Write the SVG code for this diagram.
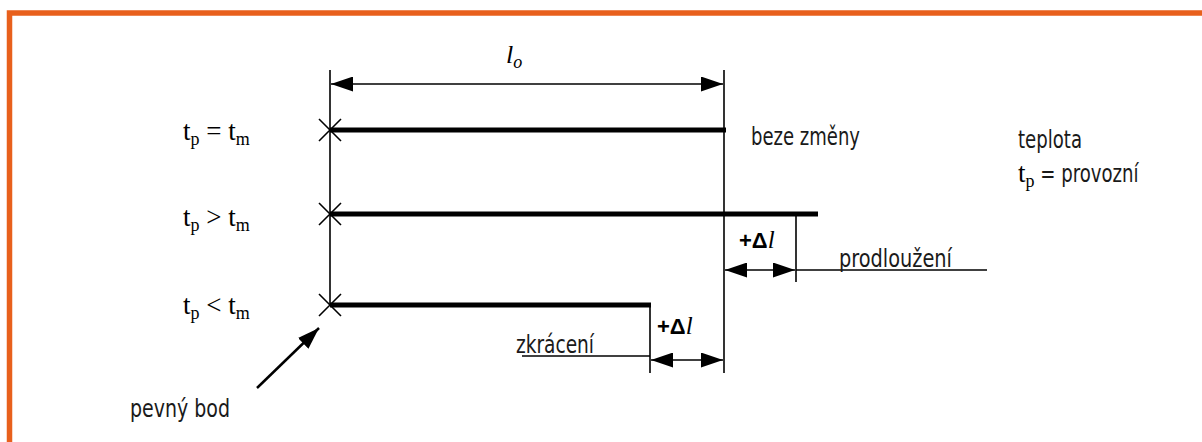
<svg xmlns="http://www.w3.org/2000/svg" width="1202" height="442" viewBox="0 0 1202 442">
<defs>
<marker id="ah" viewBox="0 0 22 15" refX="22" refY="7.5" markerWidth="22" markerHeight="15" markerUnits="userSpaceOnUse" orient="auto-start-reverse">
<path d="M0,0 L22,7.5 L0,15 Z" fill="#000"/>
</marker>
</defs>
<style>
.thin{stroke:#000;stroke-width:1.6;fill:none}
.bar{stroke:#000;stroke-width:5;fill:none}
.dim{stroke:#000;stroke-width:1.6;fill:none;marker-start:url(#ah);marker-end:url(#ah)}
.ser{font-family:"Liberation Serif","Times New Roman",serif;fill:#000}
.san{font-family:"Liberation Sans Narrow","DejaVu Sans Condensed","Liberation Sans",sans-serif;font-size:25px;fill:#1a1a1a}
.sub{font-size:18px}
.dl{font-family:"Liberation Sans",Arial,sans-serif;font-weight:bold;font-size:22px;fill:#000}
</style>
<rect x="0" y="0" width="1202" height="442" fill="#fff"/>
<path d="M9.5,442 L9.5,13 L1202,13" stroke="#E8601C" stroke-width="5.5" fill="none"/>

<g id="connectors">
<line class="thin" x1="330" y1="70" x2="330" y2="305"/>
<line class="thin" x1="724" y1="70" x2="724" y2="373"/>
<line class="thin" x1="650" y1="305" x2="650" y2="373"/>
<line class="thin" x1="796" y1="214" x2="796" y2="282"/>
<line class="dim" x1="331" y1="84" x2="723" y2="84"/>
<line class="dim" x1="725" y1="270" x2="795" y2="270"/>
<line class="dim" x1="651" y1="360" x2="723" y2="360"/>
<line class="thin" x1="796" y1="270" x2="987" y2="270"/>
<line class="thin" x1="522" y1="356" x2="650" y2="356"/>
<line stroke="#000" stroke-width="2.5" x1="257" y1="388" x2="319" y2="328" marker-end="url(#ah)"/>
</g>

<g id="bar-equal">
<line class="bar" x1="330" y1="130" x2="726" y2="130"/>
<path class="thin" d="M319,119 L341,141 M319,141 L341,119"/>
<text class="ser" x="183" y="140" font-size="27">t<tspan class="sub" dy="5">p</tspan><tspan dy="-5"> = t</tspan><tspan class="sub" dy="5">m</tspan></text>
<text class="san" x="751" y="145" textLength="109" lengthAdjust="spacingAndGlyphs">beze změny</text>
</g>

<g id="bar-longer">
<line class="bar" x1="330" y1="214" x2="818" y2="214"/>
<path class="thin" d="M319,203 L341,225 M319,225 L341,203"/>
<text class="ser" x="183" y="226" font-size="27">t<tspan class="sub" dy="5">p</tspan><tspan dy="-5"> &gt; t</tspan><tspan class="sub" dy="5">m</tspan></text>
<text x="739" y="248"><tspan class="dl">+Δ</tspan><tspan class="ser" font-style="italic" font-size="25">l</tspan></text>
<text class="san" x="839" y="267" textLength="113" lengthAdjust="spacingAndGlyphs">prodloužení</text>
</g>

<g id="bar-shorter">
<line class="bar" x1="330" y1="305" x2="651" y2="305"/>
<path class="thin" d="M319,294 L341,316 M319,316 L341,294"/>
<text class="ser" x="183" y="314" font-size="27">t<tspan class="sub" dy="5">p</tspan><tspan dy="-5"> &lt; t</tspan><tspan class="sub" dy="5">m</tspan></text>
<text x="657" y="334"><tspan class="dl">+Δ</tspan><tspan class="ser" font-style="italic" font-size="25">l</tspan></text>
<text class="san" x="516" y="353" textLength="78" lengthAdjust="spacingAndGlyphs">zkrácení</text>
</g>

<g id="length-label">
<text class="ser" x="506" y="63" font-size="26" font-style="italic">l<tspan class="sub" dy="5">o</tspan></text>
</g>

<g id="fixed-point">
<text class="san" x="130" y="417" textLength="100" lengthAdjust="spacingAndGlyphs">pevný bod</text>
</g>

<g id="legend">
<text class="san" x="1018" y="148" textLength="64" lengthAdjust="spacingAndGlyphs">teplota</text>
<text x="1018" y="182"><tspan class="ser" font-size="27">t</tspan><tspan class="ser sub" dy="5">p</tspan><tspan class="san" dy="-5" textLength="104" lengthAdjust="spacingAndGlyphs"> = provozní</tspan></text>
</g>
</svg>
